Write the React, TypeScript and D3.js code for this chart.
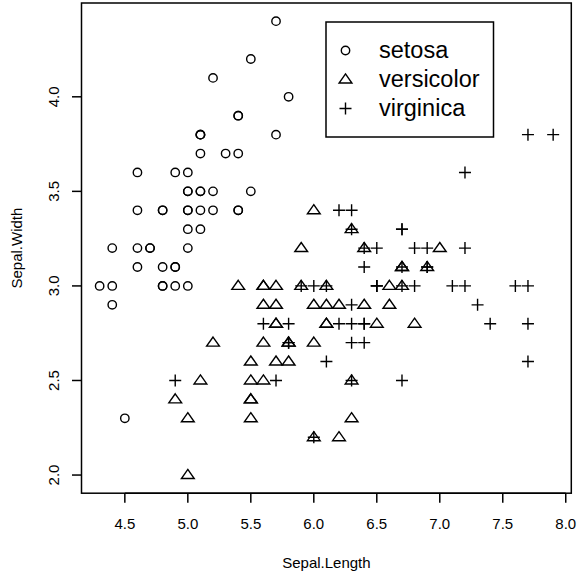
import React from "react";
import * as d3 from "d3";

const species = ["setosa", "versicolor", "virginica"];

const setosaLength = [5.1,4.9,4.7,4.6,5.0,5.4,4.6,5.0,4.4,4.9,5.4,4.8,4.8,4.3,5.8,5.7,5.4,5.1,5.7,5.1,5.4,5.1,4.6,5.1,4.8,5.0,5.0,5.2,5.2,4.7,4.8,5.4,5.2,5.5,4.9,5.0,5.5,4.9,4.4,5.1,5.0,4.5,4.4,5.0,5.1,4.8,5.1,4.6,5.3,5.0];
const setosaWidth = [3.5,3.0,3.2,3.1,3.6,3.9,3.4,3.4,2.9,3.1,3.7,3.4,3.0,3.0,4.0,4.4,3.9,3.5,3.8,3.8,3.4,3.7,3.6,3.3,3.4,3.0,3.4,3.5,3.4,3.2,3.1,3.4,4.1,4.2,3.1,3.2,3.5,3.6,3.0,3.4,3.5,2.3,3.2,3.5,3.8,3.0,3.8,3.2,3.7,3.3];

const versicolorLength = [7.0,6.4,6.9,5.5,6.5,5.7,6.3,4.9,6.6,5.2,5.0,5.9,6.0,6.1,5.6,6.7,5.6,5.8,6.2,5.6,5.9,6.1,6.3,6.1,6.4,6.6,6.8,6.7,6.0,5.7,5.5,5.5,5.8,6.0,5.4,6.0,6.7,6.3,5.6,5.5,5.5,6.1,5.8,5.0,5.6,5.7,5.7,6.2,5.1,5.7];
const versicolorWidth = [3.2,3.2,3.1,2.3,2.8,2.8,3.3,2.4,2.9,2.7,2.0,3.0,2.2,2.9,2.9,3.1,3.0,2.7,2.2,2.5,3.2,2.8,2.5,2.8,2.9,3.0,2.8,3.0,2.9,2.6,2.4,2.4,2.7,2.7,3.0,3.4,3.1,2.3,3.0,2.5,2.6,3.0,2.6,2.3,2.7,3.0,2.9,2.9,2.5,2.8];

const virginicaLength = [6.3,5.8,7.1,6.3,6.5,7.6,4.9,7.3,6.7,7.2,6.5,6.4,6.8,5.7,5.8,6.4,6.5,7.7,7.7,6.0,6.9,5.6,7.7,6.3,6.7,7.2,6.2,6.1,6.4,7.2,7.4,7.9,6.4,6.3,6.1,7.7,6.3,6.4,6.0,6.9,6.7,6.9,5.8,6.8,6.7,6.7,6.3,6.5,6.2,5.9];
const virginicaWidth = [3.3,2.7,3.0,2.9,3.0,3.0,2.5,2.9,2.5,3.6,3.2,2.7,3.0,2.5,2.8,3.2,3.0,3.8,2.6,2.2,3.2,2.8,2.8,2.7,3.3,3.2,2.8,3.0,2.8,3.0,2.8,3.8,2.8,2.8,2.6,3.0,3.4,3.1,3.0,3.1,3.1,3.1,2.7,3.2,3.3,3.0,2.5,3.0,3.4,3.0];

const xTicks = [4.5, 5.0, 5.5, 6.0, 6.5, 7.0, 7.5, 8.0];
const yTicks = [2.0, 2.5, 3.0, 3.5, 4.0];

const FONT = "'Liberation Sans', Arial, Helvetica, sans-serif";

function Marker({ kind, x, y }: { kind: number; x: number; y: number }) {
  const sw = 1.4;
  if (kind === 0) {
    return <circle cx={x} cy={y} r={4.2} fill="none" stroke="#000" strokeWidth={sw} />;
  }
  if (kind === 1) {
    const h = 5.6;
    const w = 6.4;
    const d = `M${x},${y - h} L${x + w},${y + h * 0.62} L${x - w},${y + h * 0.62} Z`;
    return <path d={d} fill="none" stroke="#000" strokeWidth={sw} strokeLinejoin="miter" />;
  }
  const a = 6;
  return (
    <path d={`M${x - a},${y} H${x + a} M${x},${y - a} V${y + a}`} stroke="#000" strokeWidth={sw} fill="none" />
  );
}

export default function App() {
  const W = 580, H = 576;
  const left = 81.5, right = 571.3, top = 3, bottom = 493.2;
  const xDomain = [4.3 - 0.144, 7.9 + 0.144];
  const yDomain = [2.0 - 0.096, 4.4 + 0.096];
  const x = d3.scaleLinear().domain(xDomain).range([left, right]);
  const y = d3.scaleLinear().domain(yDomain).range([bottom, top]);

  const groups = [
    { L: setosaLength, Wd: setosaWidth },
    { L: versicolorLength, Wd: versicolorWidth },
    { L: virginicaLength, Wd: virginicaWidth },
  ];

  const legendRows = [50.5, 79.5, 108.5];

  return (
    <svg width={W} height={H} style={{ position: "absolute", left: 0, top: 0, background: "#fff" }}>
      <rect x={0} y={0} width={W} height={H} fill="#fff" />
      {groups.map((g, gi) =>
        g.L.map((v, i) => <Marker key={`${gi}-${i}`} kind={gi} x={x(v)} y={y(g.Wd[i])} />)
      )}
      <rect x={left} y={top} width={right - left} height={bottom - top} fill="none" stroke="#000" strokeWidth={1.5} />
      {/* x axis */}
      <line x1={x(xTicks[0])} x2={x(xTicks[xTicks.length - 1])} y1={bottom} y2={bottom} stroke="#000" strokeWidth={1.5} />
      {xTicks.map((t) => (
        <g key={`xt${t}`}>
          <line x1={x(t)} x2={x(t)} y1={bottom} y2={bottom + 9.5} stroke="#000" strokeWidth={1.5} />
          <text x={x(t)} y={523} textAnchor="middle" dominantBaseline="central" fontFamily={FONT} fontSize={15} fill="#000">
            {t.toFixed(1)}
          </text>
        </g>
      ))}
      {/* y axis */}
      {yTicks.map((t) => (
        <g key={`yt${t}`}>
          <line x1={left} x2={left - 9.5} y1={y(t)} y2={y(t)} stroke="#000" strokeWidth={1.5} />
          <text
            transform={`translate(53,${y(t)}) rotate(-90)`}
            textAnchor="middle"
            dominantBaseline="central"
            fontFamily={FONT}
            fontSize={15}
            fill="#000"
          >
            {t.toFixed(1)}
          </text>
        </g>
      ))}
      <text x={(left + right) / 2} y={562} textAnchor="middle" dominantBaseline="central" fontFamily={FONT} fontSize={15} fill="#000">
        Sepal.Length
      </text>
      <text
        transform={`translate(16,${(top + bottom) / 2}) rotate(-90)`}
        textAnchor="middle"
        dominantBaseline="central"
        fontFamily={FONT}
        fontSize={15}
        fill="#000"
      >
        Sepal.Width
      </text>
      {/* legend */}
      <rect x={326} y={22} width={167.5} height={115} fill="#fff" stroke="#000" strokeWidth={1.5} />
      {species.map((s, i) => (
        <g key={s}>
          <Marker kind={i} x={345.5} y={legendRows[i]} />
          <text x={379} y={legendRows[i] - 1} dominantBaseline="central" fontFamily={FONT} fontSize={23.5} fill="#000">
            {s}
          </text>
        </g>
      ))}
    </svg>
  );
}
